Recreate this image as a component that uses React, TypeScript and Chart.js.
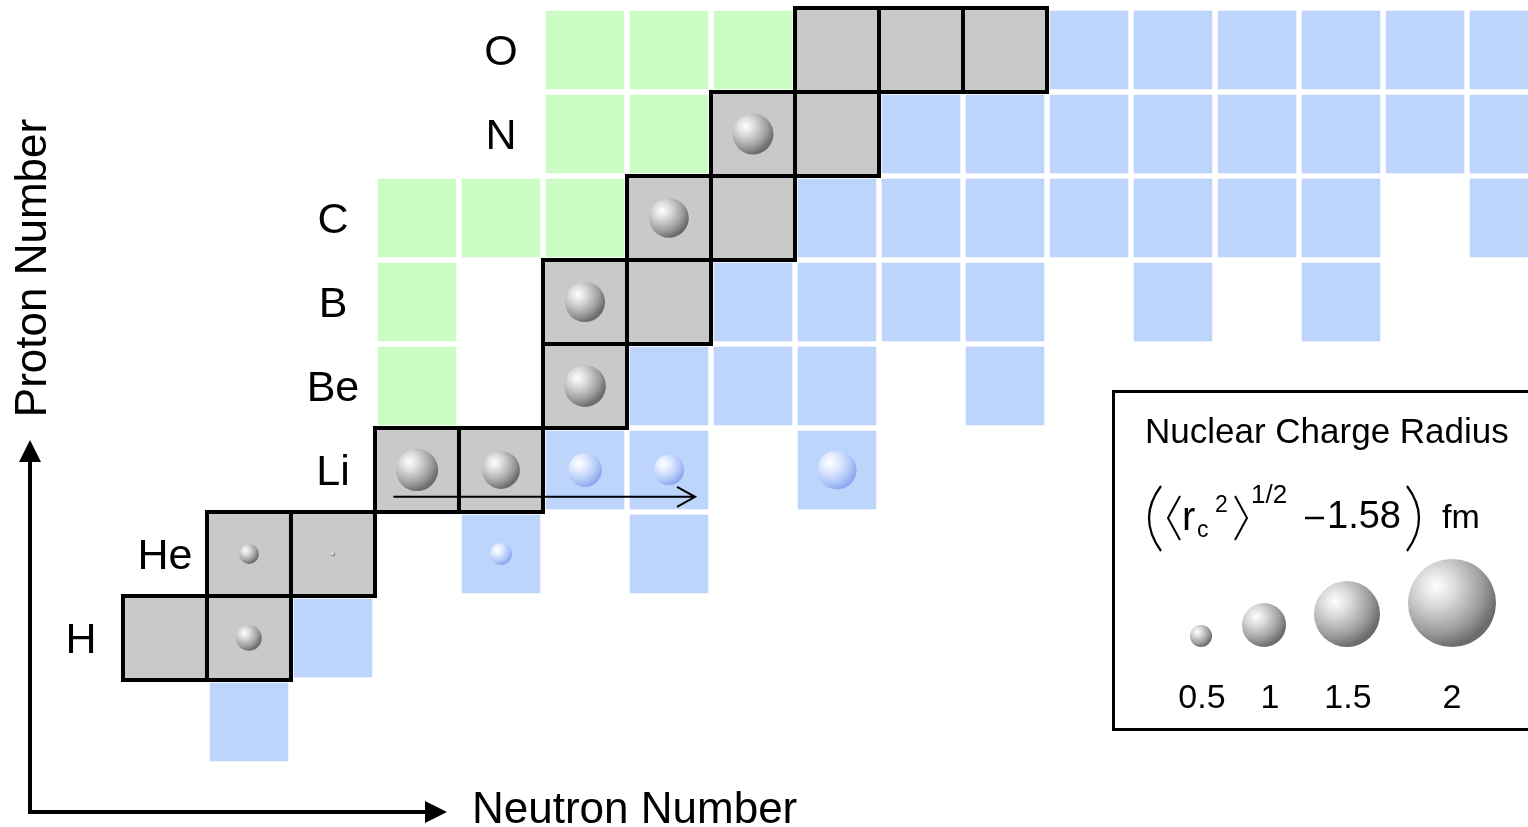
import React, { useEffect, useRef } from 'react';
import { Chart, registerables } from 'chart.js';

Chart.register(...registerables);

const FONT = "'Liberation Sans', Arial, Helvetica, sans-serif";

// Element symbols and their proton numbers
const elementSymbols = ['H', 'He', 'Li', 'Be', 'B', 'C', 'N', 'O'];
const elementZ = [1, 2, 3, 4, 5, 6, 7, 8];

// Cells as [neutron number N, proton number Z]
const stableCells: number[][] = [
  [0, 1], [1, 1], [1, 2], [2, 2], [3, 3], [4, 3], [5, 4], [5, 5], [6, 5],
  [6, 6], [7, 6], [7, 7], [8, 7], [8, 8], [9, 8], [10, 8],
];
const protonRichCells: number[][] = [
  [3, 4], [3, 5], [3, 6], [4, 6], [5, 6], [5, 7], [6, 7], [5, 8], [6, 8], [7, 8],
];
const neutronRichCells: number[][] = [
  [1, 0], [2, 1], [4, 2], [6, 2], [5, 3], [6, 3], [8, 3],
  [6, 4], [7, 4], [8, 4], [10, 4],
  [7, 5], [8, 5], [9, 5], [10, 5], [12, 5], [14, 5],
  [8, 6], [9, 6], [10, 6], [11, 6], [12, 6], [13, 6], [14, 6], [16, 6],
  [9, 7], [10, 7], [11, 7], [12, 7], [13, 7], [14, 7], [15, 7], [16, 7],
  [11, 8], [12, 8], [13, 8], [14, 8], [15, 8], [16, 8],
];

// Charge radius ( <rc^2>^1/2 - 1.58 ) fm as [N, Z, value]
const stableRadii: number[][] = [
  [1, 1, 0.58], [1, 2, 0.45], [2, 2, 0.1], [3, 3, 0.96], [4, 3, 0.86],
  [5, 4, 0.95], [5, 5, 0.91], [6, 6, 0.9], [7, 7, 0.93],
];
const exoticRadii: number[][] = [
  [4, 2, 0.5], [5, 3, 0.77], [6, 3, 0.69], [8, 3, 0.89],
];

const legendValues = [0.5, 1, 1.5, 2];
const legendLabels = ['0.5', '1', '1.5', '2'];

// view range of the axes (hidden)
const X_MIN = -1.964;
const X_MAX = 16.226;
const Y_MIN = -1.25;
const Y_MAX = 8.595;

const SPHERE_SCALE = 22; // px per fm
const BLUE = '#bdd4fb';
const GREEN = '#cbfcc4';
const GRAY = '#c9c9c9';

const allCells = [...stableCells, ...protonRichCells, ...neutronRichCells];

function sphereGradient(ctx: CanvasRenderingContext2D, cx: number, cy: number, r: number, blue: boolean): any {
  if (!isFinite(cx) || !isFinite(cy) || !isFinite(r) || r <= 0) return blue ? '#b4caf6' : '#aaaaaa';
  const hx = cx - r * 0.35;
  const hy = cy - r * 0.38;
  const g = ctx.createRadialGradient(hx, hy, 0, hx, hy, r * 1.4);
  if (blue) {
    g.addColorStop(0, '#ffffff');
    g.addColorStop(0.35, '#dfe9ff');
    g.addColorStop(0.75, '#b0c7f7');
    g.addColorStop(1, '#8eaaf0');
  } else {
    g.addColorStop(0, '#ffffff');
    g.addColorStop(0.3, '#dcdcdc');
    g.addColorStop(0.75, '#9c9c9c');
    g.addColorStop(1, '#6c6c6c');
  }
  return g;
}

const cellRadius = (frac: number) => (c: any) => {
  const xs = c.chart.scales.x;
  if (!xs) return 0;
  const pitch = Math.abs(xs.getPixelForValue(1) - xs.getPixelForValue(0));
  const r = (pitch * frac) / Math.SQRT2;
  return isFinite(r) ? r : 0;
};

const sphereRadius = (c: any) => (c.raw && typeof c.raw.v === 'number' ? c.raw.v * SPHERE_SCALE : 0);

const sphereColor = (blue: boolean) => (c: any) => {
  const raw = c.raw;
  const sc = c.chart.scales;
  if (!raw || !sc || !sc.x || !sc.y) return blue ? '#b4caf6' : '#aaaaaa';
  const cx = sc.x.getPixelForValue(raw.x);
  const cy = sc.y.getPixelForValue(raw.y);
  return sphereGradient(c.chart.ctx, cx, cy, raw.v * SPHERE_SCALE, blue);
};

const overlayPlugin = {
  id: 'overlay',
  afterDatasetsDraw(chart: any) {
    const { ctx } = chart;
    const xs = chart.scales.x;
    const ys = chart.scales.y;
    ctx.save();
    ctx.fillStyle = '#000';
    ctx.strokeStyle = '#000';

    // element labels
    ctx.font = `43px ${FONT}`;
    ctx.textAlign = 'center';
    ctx.textBaseline = 'alphabetic';
    elementSymbols.forEach((s, i) => {
      const z = elementZ[i];
      const firstN = Math.min(...allCells.filter((c) => c[1] === z).map((c) => c[0]));
      ctx.fillText(s, xs.getPixelForValue(firstN - 1), ys.getPixelForValue(z) + 15);
    });

    // Li arrow
    const ay = ys.getPixelForValue(2.68);
    const ax0 = xs.getPixelForValue(2.72);
    const ax1 = xs.getPixelForValue(6.31);
    ctx.lineWidth = 2;
    ctx.beginPath();
    ctx.moveTo(ax0, ay);
    ctx.lineTo(ax1, ay);
    ctx.moveTo(ax1 - 18, ay - 10);
    ctx.lineTo(ax1, ay);
    ctx.lineTo(ax1 - 18, ay + 10);
    ctx.stroke();

    // axes arrows
    ctx.lineWidth = 4;
    ctx.beginPath();
    ctx.moveTo(30, 814);
    ctx.lineTo(30, 458);
    ctx.moveTo(28, 812);
    ctx.lineTo(428, 812);
    ctx.stroke();
    ctx.beginPath();
    ctx.moveTo(30, 440);
    ctx.lineTo(19, 462);
    ctx.lineTo(41, 462);
    ctx.closePath();
    ctx.fill();
    ctx.beginPath();
    ctx.moveTo(447, 812);
    ctx.lineTo(425, 801);
    ctx.lineTo(425, 823);
    ctx.closePath();
    ctx.fill();

    ctx.font = `44px ${FONT}`;
    ctx.textAlign = 'left';
    ctx.fillText('Neutron Number', 472, 823);
    ctx.save();
    ctx.translate(46, 268);
    ctx.rotate(-Math.PI / 2);
    ctx.textAlign = 'center';
    ctx.font = `44px ${FONT}`;
    ctx.fillText('Proton Number', 0, 0);
    ctx.restore();

    // legend box
    ctx.fillStyle = '#fff';
    ctx.fillRect(1113, 391, 430, 338);
    ctx.fillStyle = '#000';
    ctx.lineWidth = 3;
    ctx.strokeRect(1113.5, 391.5, 430, 338);

    ctx.textAlign = 'left';
    ctx.font = `35px ${FONT}`;
    ctx.fillText('Nuclear Charge Radius', 1145, 443);

    // formula
    ctx.lineWidth = 2.2;
    ctx.beginPath();
    ctx.moveTo(1161, 486);
    ctx.quadraticCurveTo(1137, 518, 1161, 551);
    ctx.moveTo(1407, 486);
    ctx.quadraticCurveTo(1431, 518, 1407, 551);
    ctx.stroke();
    ctx.lineWidth = 2;
    ctx.beginPath();
    ctx.moveTo(1180, 496);
    ctx.lineTo(1168, 518);
    ctx.lineTo(1180, 540);
    ctx.moveTo(1235, 496);
    ctx.lineTo(1247, 518);
    ctx.lineTo(1235, 540);
    ctx.stroke();
    ctx.font = `40px ${FONT}`;
    ctx.fillText('r', 1182, 530);
    ctx.font = `23px ${FONT}`;
    ctx.fillText('c', 1197, 537);
    ctx.font = `23px ${FONT}`;
    ctx.fillText('2', 1215, 512);
    ctx.font = `26px ${FONT}`;
    ctx.fillText('1/2', 1251, 503);
    ctx.lineWidth = 2.5;
    ctx.beginPath();
    ctx.moveTo(1305, 518);
    ctx.lineTo(1324, 518);
    ctx.stroke();
    ctx.font = `38px ${FONT}`;
    ctx.fillText('1.58', 1327, 528);
    ctx.font = `34px ${FONT}`;
    ctx.fillText('fm', 1442, 528);

    // legend spheres
    const centersX = [1201, 1264, 1347, 1452];
    legendValues.forEach((v, i) => {
      const r = v * SPHERE_SCALE;
      const cx = centersX[i];
      const cy = 647 - r;
      ctx.fillStyle = sphereGradient(ctx, cx, cy, r, false);
      ctx.beginPath();
      ctx.arc(cx, cy, r, 0, Math.PI * 2);
      ctx.fill();
    });
    ctx.fillStyle = '#000';
    ctx.textAlign = 'center';
    ctx.font = `34px ${FONT}`;
    const labelX = [1202, 1270, 1348, 1452];
    legendLabels.forEach((t, i) => ctx.fillText(t, labelX[i], 708));

    ctx.restore();
  },
};

export default function App() {
  const ref = useRef<HTMLCanvasElement>(null);

  useEffect(() => {
    if (!ref.current) return;
    const toPts = (arr: number[][]) => arr.map((c) => ({ x: c[0], y: c[1] }));
    const toSph = (arr: number[][]) => arr.map((c) => ({ x: c[0], y: c[1], v: c[2] }));

    const chart = new Chart(ref.current, {
      type: 'scatter',
      data: {
        datasets: [
          {
            label: 'radius-stable',
            data: toSph(stableRadii) as any,
            order: 0,
            pointStyle: 'circle',
            radius: sphereRadius,
            backgroundColor: sphereColor(false) as any,
            borderWidth: 0,
          } as any,
          {
            label: 'radius-exotic',
            data: toSph(exoticRadii) as any,
            order: 1,
            pointStyle: 'circle',
            radius: sphereRadius,
            backgroundColor: sphereColor(true) as any,
            borderWidth: 0,
          } as any,
          {
            label: 'stable',
            data: toPts(stableCells),
            order: 2,
            pointStyle: 'rect',
            radius: cellRadius(1.0),
            backgroundColor: GRAY,
            borderColor: '#000',
            borderWidth: 4,
          } as any,
          {
            label: 'proton-rich',
            data: toPts(protonRichCells),
            order: 3,
            pointStyle: 'rect',
            radius: cellRadius(0.935),
            backgroundColor: GREEN,
            borderWidth: 0,
          } as any,
          {
            label: 'neutron-rich',
            data: toPts(neutronRichCells),
            order: 4,
            pointStyle: 'rect',
            radius: cellRadius(0.935),
            backgroundColor: BLUE,
            borderWidth: 0,
          } as any,
        ],
      },
      options: {
        responsive: false,
        animation: false,
        events: [],
        devicePixelRatio: 1,
        layout: { padding: 0, autoPadding: false } as any,
        plugins: { legend: { display: false }, tooltip: { enabled: false } },
        scales: {
          x: { type: 'linear', min: X_MIN, max: X_MAX, display: false },
          y: { type: 'linear', min: Y_MIN, max: Y_MAX, display: false },
        },
      },
      plugins: [overlayPlugin],
    });
    return () => chart.destroy();
  }, []);

  return (
    <div style={{ position: 'fixed', left: 0, top: 0, width: 1528, height: 827, background: '#fff' }}>
      <canvas ref={ref} width={1528} height={827} style={{ display: 'block' }} />
    </div>
  );
}
